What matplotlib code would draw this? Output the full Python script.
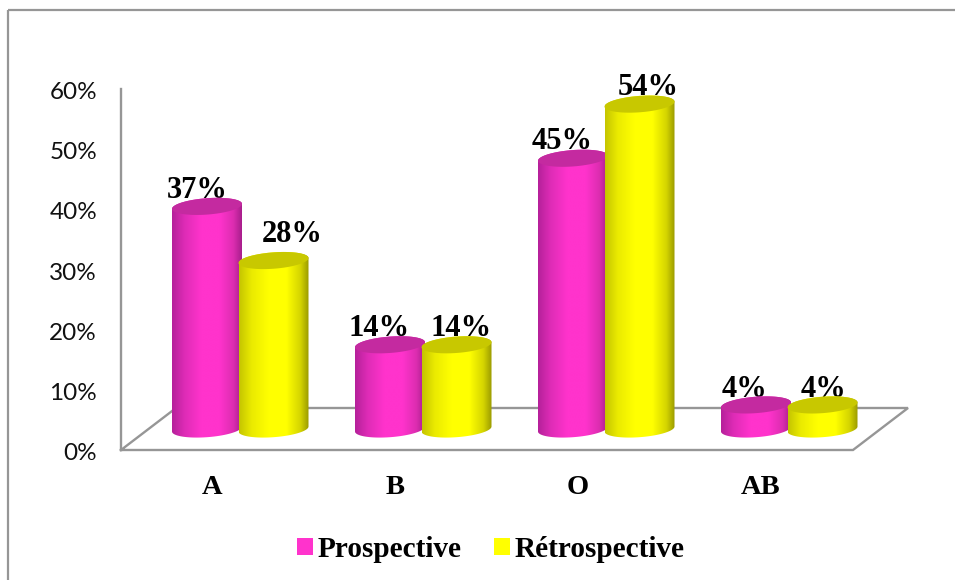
import numpy as np
import matplotlib
matplotlib.use("Agg")
import matplotlib.pyplot as plt
from matplotlib.colors import LinearSegmentedColormap
from matplotlib.lines import Line2D
from matplotlib.patches import Patch, Polygon

categories = ["A", "B", "O", "AB"]
prospective = [37, 14, 45, 4]
retrospective = [28, 14, 54, 4]
series_names = ["Prospective", "Rétrospective"]
y_ticks = [0, 10, 20, 30, 40, 50, 60]

W, H = 955, 580
PX_X = 183.0          # pixels per category
PX_Y = 361 / 60       # pixels per percent
X0, Y0 = 212, 450     # pixel position of category 0 and of the 0% level
GRAY = "#969696"
SERIF = "Liberation Serif"

# hand-placed value labels: pixel shift from the centre of each cylinder's lid
pro_label_dx = [-10, -11, -11, -12]
pro_label_dy = [16, 16, 17, 15]
ret_label_dx = [18.5, 5, 9, 1]
ret_label_dy = [26, 16, 17, 15]


def dx(px):
    return px / PX_X


def dy(px):
    return px / PX_Y


fig = plt.figure(figsize=(W / 100, H / 100), dpi=100)
ax = fig.add_axes([0, 0, 1, 1])
ax.set_axis_off()

# outer chart frame: only the top and left edges are visible
frame = dict(color=GRAY, lw=1.6, transform=fig.transFigure, clip_on=False, solid_capstyle="butt")
fig.add_artist(Line2D([8 / W, 8 / W], [0, 1 - 10 / H], **frame))
fig.add_artist(Line2D([8 / W, 1], [1 - 10 / H, 1 - 10 / H], **frame))

# value axis and the floor parallelogram
ax_line = dict(color=GRAY, lw=1.7, zorder=1, solid_joinstyle="miter")
left, right = dx(121 - X0), dx(853 - X0)
depth_x, depth_y = dx(55), dy(42)
ax.plot([left, left], [60, 0], **ax_line)
ax.plot([left, right, right + depth_x, left + depth_x, left],
        [0, 0, depth_y, depth_y, 0], **ax_line)

for t in y_ticks:
    ax.text(dx(97 - X0), t - dy(3.5), f"{t}%", ha="right", va="center",
            family="Lato", fontsize=17.5, color="#111111", zorder=2)

for i, c in enumerate(categories):
    ax.text(i, dy(Y0 - 487), c, ha="center", va="center",
            family=SERIF, weight="bold", fontsize=20.5, color="black")

# cylinder geometry
half_w = dx(35)
ell_b = dy(8.2)
ell_s = dy(2.5)
base = dy(Y0 - 429)
t_full = np.linspace(0, 2 * np.pi, 121)
t_lower = np.linspace(np.pi, 2 * np.pi, 61)
t_upper = np.linspace(0, np.pi, 61)


def ring(x, y, t):
    return np.column_stack([x + half_w * np.cos(t),
                            y + ell_b * np.sin(t) + ell_s * np.cos(t)])


def cylinder(x, value, cmap, top_color, z):
    top = base + value
    outline = np.vstack([ring(x, base, t_lower), ring(x, top, t_upper)])
    ramp = np.linspace(0, 1, 256)[None, :]
    img = ax.imshow(ramp, cmap=cmap, extent=[x - half_w, x + half_w, base - 3, top + 3],
                    aspect="auto", zorder=z, interpolation="bilinear")
    clip = Polygon(outline, closed=True, transform=ax.transData, fc="none", ec="none")
    ax.add_patch(clip)
    img.set_clip_path(clip)
    ax.add_patch(Polygon(ring(x, top, t_full), closed=True, fc=top_color, ec="none", zorder=z + 0.1))


pink_map = LinearSegmentedColormap.from_list(
    "pink", [(0, "#B5209A"), (0.18, "#DE2CB6"), (0.42, "#FF33CC"), (0.68, "#FF33CC"),
             (0.88, "#DC2DB0"), (1, "#A81E8C")])
yellow_map = LinearSegmentedColormap.from_list(
    "yellow", [(0, "#C4C400"), (0.18, "#EAEA00"), (0.42, "#FFFF00"), (0.68, "#FFFF00"),
               (0.88, "#D4D400"), (1, "#9A9A00")])

series = [
    (prospective, pro_label_dx, pro_label_dy, dx(-5), pink_map, "#C42AA0", 3),
    (retrospective, ret_label_dx, ret_label_dy, dx(61.5), yellow_map, "#C8C800", 5),
]
for values, ldx, ldy, offset, cmap, top_color, z in series:
    for i, v in enumerate(values):
        x = i + offset
        # labels sit behind the cylinders, whose lids slightly overlap them
        ax.text(x + dx(ldx[i]), base + v + dy(ldy[i]), f"{v}%", ha="center", va="center",
                family=SERIF, weight="bold", fontsize=22, color="black", zorder=2.5)
        cylinder(x, v, cmap, top_color, z)

ax.set_xlim(-X0 / PX_X, (W - X0) / PX_X)
ax.set_ylim(-(H - Y0) / PX_Y, Y0 / PX_Y)

handles = [Patch(fc="#FF33CC", ec="none"), Patch(fc="#FFFF00", ec="none")]
ax.legend(handles, series_names, ncol=2, loc="center left", frameon=False,
          bbox_to_anchor=(297 / W, 1 - 549.5 / H),
          prop=dict(family=SERIF, weight="bold", size=21.1),
          handlelength=0.54, handleheight=0.54, handletextpad=0.15, columnspacing=1.12,
          borderpad=0, borderaxespad=0)

fig.savefig("out.png", dpi=100)
